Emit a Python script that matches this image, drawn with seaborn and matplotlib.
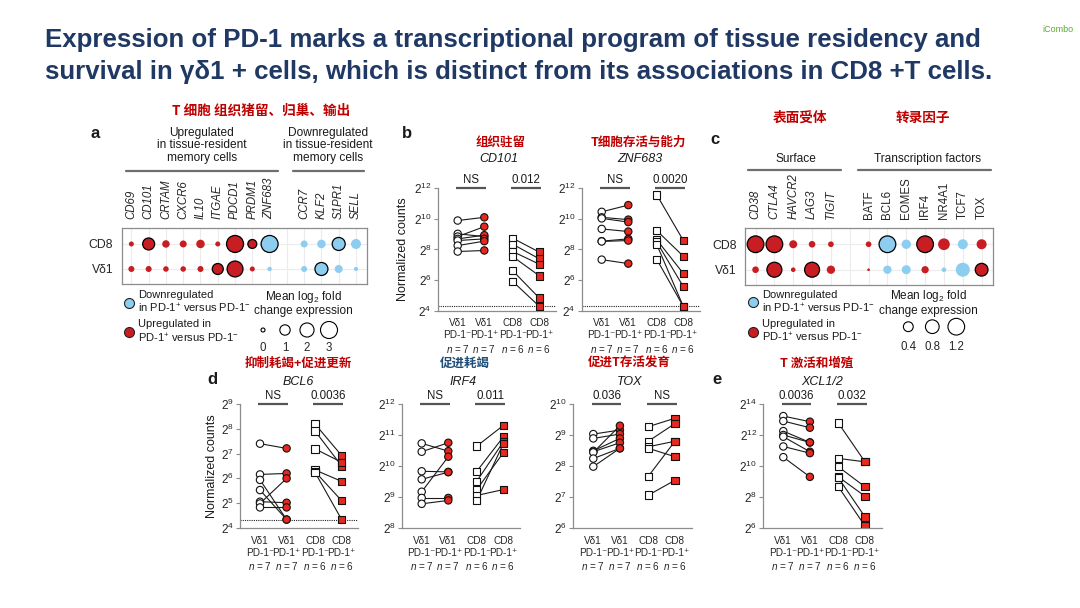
"""
PD-1 expression in Vd1 and CD8 T cells: dot plots (a, c) and paired count plots (b, d, e).
"""
import numpy as np
import pandas as pd
import matplotlib
matplotlib.use('Agg')
import matplotlib.pyplot as plt
import seaborn as sns
from matplotlib.lines import Line2D
from matplotlib.ticker import NullLocator

# ---------------- data ----------------
# panel a: signed mean log2 fold change (PD-1+ vs PD-1-), 1 = significant (outlined)
genes_a = ['CD69', 'CD101', 'CRTAM', 'CXCR6', 'IL10', 'ITGAE', 'PDCD1', 'PRDM1', 'ZNF683',
           'CCR7', 'KLF2', 'S1PR1', 'SELL']
n_first_a = 9
italic_a = [1] * 13
fc_cd8_a = [0.10, 1.40, 0.44, 0.36, 0.62, 0.10, 3.00, 0.70, -3.00, -0.36, -0.62, -1.68, -0.92]
fc_vd1_a = [0.22, 0.22, 0.16, 0.16, 0.22, 1.15, 2.60, 0.10, -0.04, -0.22, -1.68, -0.53, -0.01]
sig_cd8_a = [0, 1, 0, 0, 0, 0, 1, 1, 1, 0, 0, 1, 0]
sig_vd1_a = [0, 0, 0, 0, 0, 1, 1, 0, 0, 0, 1, 0, 0]
size_legend_a = [0, 1, 2, 3]

# panel c
genes_c = ['CD38', 'CTLA4', 'HAVCR2', 'LAG3', 'TIGIT',
           'BATF', 'BCL6', 'EOMES', 'IRF4', 'NR4A1', 'TCF7', 'TOX']
n_first_c = 5
italic_c = [1, 1, 1, 1, 1, 0, 0, 0, 0, 0, 0, 0]
fc_cd8_c = [1.56, 1.56, 0.26, 0.17, 0.12, 0.12, -1.20, -0.36, 1.20, 0.58, -0.42, 0.42]
fc_vd1_c = [0.17, 0.96, 0.07, 0.96, 0.28, 0.01, -0.28, -0.33, 0.21, -0.07, -0.84, 0.69]
sig_cd8_c = [1, 1, 0, 0, 0, 0, 1, 0, 1, 0, 0, 0]
sig_vd1_c = [0, 1, 0, 1, 0, 0, 0, 0, 0, 0, 0, 1]
size_legend_c = [0.4, 0.8, 1.2]

# paired panels: log2 normalized counts, index i of PD-1- is paired with index i of PD-1+
group_labels = ['Vδ1\nPD-1⁻\n$n$ = 7', 'Vδ1\nPD-1⁺\n$n$ = 7',
                'CD8\nPD-1⁻\n$n$ = 6', 'CD8\nPD-1⁺\n$n$ = 6']

cd101_vd1_neg = [9.89, 9.02, 8.84, 8.69, 8.58, 8.25, 7.86]
cd101_vd1_pos = [10.10, 8.84, 9.49, 8.93, 8.69, 8.54, 7.93]
cd101_cd8_neg = [8.73, 8.34, 7.86, 7.53, 6.60, 5.90]
cd101_cd8_pos = [7.82, 7.38, 7.03, 6.27, 4.81, 4.27]

znf683_vd1_neg = [10.46, 10.10, 10.03, 9.34, 8.54, 8.52, 7.33]
znf683_vd1_pos = [10.90, 9.95, 9.79, 9.17, 8.69, 8.58, 7.07]
znf683_cd8_neg = [11.57, 9.23, 8.63, 8.48, 8.32, 7.35]
znf683_cd8_pos = [8.58, 7.55, 6.42, 5.56, 4.26, 4.26]

bcl6_vd1_neg = [7.40, 6.16, 5.94, 5.53, 5.06, 4.99, 4.83]
bcl6_vd1_pos = [7.21, 6.20, 4.34, 4.34, 5.02, 6.00, 4.83]
bcl6_cd8_neg = [8.19, 7.91, 7.19, 6.34, 6.27, 6.24]
bcl6_cd8_pos = [6.92, 6.50, 6.65, 5.88, 5.10, 4.34]

irf4_vd1_neg = [10.73, 10.46, 9.83, 9.57, 9.17, 8.97, 8.78]
irf4_vd1_pos = [10.48, 10.75, 9.81, 9.80, 10.30, 8.97, 8.89]
irf4_cd8_neg = [10.64, 9.83, 9.51, 9.24, 9.05, 8.89]
irf4_cd8_pos = [11.31, 10.94, 10.78, 10.43, 9.24, 10.72]

tox_vd1_neg = [9.03, 8.89, 8.49, 8.46, 8.44, 8.24, 7.98]
tox_vd1_pos = [9.16, 9.03, 8.89, 8.75, 9.30, 8.57, 8.57]
tox_cd8_neg = [9.27, 8.80, 8.62, 8.57, 7.67, 7.06]
tox_cd8_pos = [9.54, 9.37, 8.80, 8.30, 8.80, 7.54]

xcl_vd1_neg = [13.22, 12.90, 12.25, 12.00, 11.89, 11.26, 10.57]
xcl_vd1_pos = [12.86, 12.47, 11.52, 11.52, 10.92, 10.83, 9.30]
xcl_cd8_neg = [12.77, 10.49, 9.95, 9.30, 9.24, 8.66]
xcl_cd8_pos = [10.27, 10.27, 8.66, 8.05, 6.72, 6.13]

# ---------------- style ----------------
W, H = 1080, 608
DOT_RED = '#C81D22'
DOT_BLUE = '#8DCDF0'
PT_RED = '#E8281E'
CN_RED = '#C00000'
NAVY = '#1F3864'
SPINE = '#8c8c8c'
CJK = ['Noto Sans CJK SC', 'DejaVu Sans']
NARROW = ['Liberation Sans Narrow', 'Liberation Sans', 'DejaVu Sans']

sns.set_style('ticks')
plt.rcParams['font.family'] = ['Liberation Sans', 'DejaVu Sans']
plt.rcParams['mathtext.fontset'] = 'custom'
plt.rcParams['mathtext.rm'] = 'Liberation Sans'
plt.rcParams['mathtext.it'] = 'Liberation Sans:italic'
plt.rcParams['mathtext.bf'] = 'Liberation Sans:bold'
plt.rcParams['text.color'] = '#1a1a1a'


def box(l, t, r, b):
    """Pixel box (left, top, right, bottom) -> figure fraction rect."""
    return [l / W, 1 - b / H, (r - l) / W, (b - t) / H]


def fxy(x, y):
    return x / W, 1 - y / H


def draw_dot_panel(ax, genes, n_first, fc_cd8, fc_vd1, sig_cd8, sig_vd1, italic, sizes, size_norm):
    xs = [i if i < n_first else i + 1 for i in range(len(genes))]
    rows = []
    for r, (fcs, sigs) in enumerate([(fc_cd8, sig_cd8), (fc_vd1, sig_vd1)]):
        for x, fc, sg in zip(xs, fcs, sigs):
            rows.append({'x': x, 'row': r, 'mag': abs(fc),
                         'dir': 'up' if fc > 0 else 'down', 'sig': sg})
    df = pd.DataFrame(rows)
    pal = {'up': DOT_RED, 'down': DOT_BLUE}
    for sg, ec in [(0, 'none'), (1, 'black')]:
        sub = df[df['sig'] == sg]
        sns.scatterplot(data=sub, x='x', y='row', hue='dir', palette=pal, size='mag',
                        sizes=sizes, size_norm=size_norm, edgecolor=ec, linewidth=0.9,
                        legend=False, ax=ax, zorder=3)
    ax.set_xlim(-0.56, xs[-1] + 0.62)
    ax.set_ylim(1.6, -0.65)
    ax.set_xticks(xs)
    ax.set_xticks([n_first], minor=True)
    ax.xaxis.tick_top()
    ax.set_xticklabels(genes, rotation=90, fontsize=8.3)
    for lab, it in zip(ax.get_xticklabels(), italic):
        lab.set_fontstyle('italic' if it else 'normal')
    ax.set_yticks([0, 1])
    ax.set_yticklabels(['CD8', 'Vδ1'], fontsize=8.8)
    ax.tick_params(axis='both', which='both', length=0)
    ax.tick_params(axis='x', pad=6.5)
    ax.tick_params(axis='y', pad=6)
    ax.grid(True, which='both', color='#ececec', lw=0.8)
    ax.set_axisbelow(True)
    for sp in ax.spines.values():
        sp.set_visible(True)
        sp.set_color(SPINE)
        sp.set_linewidth(0.9)
    ax.set_xlabel('')
    ax.set_ylabel('')


def draw_size_legend(ax, values, sizes, size_norm, pad):
    df = pd.DataFrame({'x': range(len(values)), 'y': 0, 'v': values})
    sns.scatterplot(data=df, x='x', y='y', size='v', sizes=sizes, size_norm=size_norm,
                    color='white', edgecolor='black', linewidth=0.8, legend=False, ax=ax)
    ax.set_xlim(-0.5, len(values) - 0.5)
    ax.set_ylim(-1, 1)
    ax.set_xticks(range(len(values)))
    ax.set_xticklabels([f'{v:g}' for v in values], fontsize=8.3)
    ax.tick_params(axis='x', length=0, pad=pad)
    ax.set_yticks([])
    ax.set_xlabel('')
    ax.set_ylabel('')
    for sp in ax.spines.values():
        sp.set_visible(False)
    ax.patch.set_alpha(0)


def draw_color_legend(fig, ax, left, top):
    handles = [Line2D([], [], ls='', marker='o', ms=7.2, mfc=DOT_BLUE, mec='#222', mew=0.8),
               Line2D([], [], ls='', marker='o', ms=7.2, mfc=DOT_RED, mec='#222', mew=0.8)]
    labels = ['Downregulated\nin PD-1$^{+}$ versus PD-1$^{-}$',
              'Upregulated in\nPD-1$^{+}$ versus PD-1$^{-}$']
    ax.legend(handles, labels, loc='upper left', bbox_to_anchor=fxy(left, top),
              bbox_transform=fig.transFigure, frameon=False, fontsize=8.0,
              handlelength=1.0, handletextpad=0.35, labelspacing=0.35,
              borderpad=0, borderaxespad=0)


def draw_paired_panel(ax, vd1_neg, vd1_pos, cd8_neg, cd8_pos, ylo, yhi, ystep, pvals, lod=None):
    group_pos = [0, 1, 2.07, 3.07]
    rows = []
    for key, (neg, pos), (p0, p1) in [('V', (vd1_neg, vd1_pos), group_pos[:2]),
                                      ('C', (cd8_neg, cd8_pos), group_pos[2:])]:
        for i, (a, b) in enumerate(zip(neg, pos)):
            rows.append({'pos': p0, 'count': 2.0 ** a, 'pair': f'{key}{i}', 'grp': key + '-'})
            rows.append({'pos': p1, 'count': 2.0 ** b, 'pair': f'{key}{i}', 'grp': key + '+'})
    df = pd.DataFrame(rows)

    sns.lineplot(data=df, x='pos', y='count', units='pair', estimator=None, sort=False,
                 color='#1a1a1a', lw=0.8, legend=False, ax=ax, zorder=2)
    sns.scatterplot(data=df, x='pos', y='count', hue='grp', style='grp',
                    palette={'V-': 'white', 'V+': PT_RED, 'C-': 'white', 'C+': PT_RED},
                    markers={'V-': 'o', 'V+': 'o', 'C-': 's', 'C+': 's'},
                    s=28, edgecolor='#111', linewidth=0.8, legend=False, ax=ax, zorder=3)

    ax.set_yscale('log', base=2)
    ax.set_ylim(2.0 ** ylo, 2.0 ** yhi)
    ks = list(range(ylo, yhi + 1, ystep))
    ax.set_yticks([2.0 ** k for k in ks])
    ax.set_yticklabels([f'$2^{{{k}}}$' for k in ks], fontsize=8.5)
    ax.yaxis.set_minor_locator(NullLocator())
    ax.set_xlim(-0.75, 3.7)
    ax.set_xticks(group_pos)
    ax.set_xticklabels(group_labels, fontsize=7.2, linespacing=1.25, family=NARROW)
    ax.tick_params(axis='x', length=0, pad=5.5)
    ax.tick_params(axis='y', length=3, width=0.8, color=SPINE, pad=1.5)
    for side in ['top', 'right']:
        ax.spines[side].set_visible(False)
    for side in ['left', 'bottom']:
        ax.spines[side].set_color(SPINE)
        ax.spines[side].set_linewidth(0.9)
    if lod is not None:
        ax.axhline(2.0 ** lod, color='#222', ls=(0, (1, 1)), lw=0.8, zorder=1)

    top = 2.0 ** yhi
    for (p0, p1), txt in zip([group_pos[:2], group_pos[2:]], pvals):
        ax.plot([p0 - 0.06, p1 + 0.06], [top, top], color='#555', lw=1.6,
                clip_on=False, solid_capstyle='butt')
        ax.annotate(txt, xy=((p0 + p1) / 2, top), xytext=(0, 1.5), textcoords='offset points',
                    ha='center', va='bottom', fontsize=8.3)
    ax.set_xlabel('')
    ax.set_ylabel('')
    ax.grid(False)


def main():
    fig = plt.figure(figsize=(W / 100, H / 100), dpi=100)
    fig.patch.set_facecolor('white')

    # title
    fig.text(*fxy(45, 40), 'Expression of PD-1 marks a transcriptional program of tissue residency and',
             fontsize=18.6, fontweight='bold', color=NAVY, va='center')
    fig.text(*fxy(45, 72), 'survival in γδ1 + cells, which is distinct from its associations in CD8 +T cells.',
             fontsize=18.6, fontweight='bold', color=NAVY, va='center')
    fig.text(*fxy(1058, 30), 'iCombo', fontsize=6.5, color='#5DAA2F', ha='center', va='center')

    # panel letters
    for letter, (x, y) in zip('abcde', [(95, 134), (407, 133), (715, 140), (212, 380), (717, 380)]):
        fig.text(*fxy(x, y), letter, fontsize=12, fontweight='bold', ha='center', va='center')

    # ---- panel a
    sizes_a, norm_a = (8.3, 150), (0, 3)
    ax_a = fig.add_axes(box(121.7, 227.7, 366.7, 284))
    draw_dot_panel(ax_a, genes_a, n_first_a, fc_cd8_a, fc_vd1_a, sig_cd8_a, sig_vd1_a,
                   italic_a, sizes_a, norm_a)
    fig.text(*fxy(261, 110.5), 'T 细胞 组织猪留、归巢、输出', family=CJK, fontweight='bold',
             fontsize=9.8, color=CN_RED, ha='center', va='center')
    for txt, cx in [('Upregulated\nin tissue-resident\nmemory cells', 201.7),
                    ('Downregulated\nin tissue-resident\nmemory cells', 328)]:
        fig.text(*fxy(cx, 145.5), txt, fontsize=8.6, ha='center', va='center', linespacing=1.1)
    for x0, x1 in [(125.7, 278), (293, 364)]:
        fig.add_artist(Line2D([x0 / W, x1 / W], [1 - 171 / H] * 2, color='#6e6e6e', lw=1.6))
    draw_color_legend(fig, ax_a, 123.4, 290)
    fig.text(*fxy(303, 303), 'Mean log$_2$ fold\nchange expression', fontsize=8.5,
             ha='center', va='center', linespacing=1.1)
    ax_la = fig.add_axes(box(252, 320, 340, 340))
    draw_size_legend(ax_la, size_legend_a, sizes_a, norm_a, pad=1.5)

    # ---- panel c
    sizes_c, norm_c = (2.6, 144.6), (0, 1.2)
    ax_c = fig.add_axes(box(745, 227.7, 993.3, 285))
    draw_dot_panel(ax_c, genes_c, n_first_c, fc_cd8_c, fc_vd1_c, sig_cd8_c, sig_vd1_c,
                   italic_c, sizes_c, norm_c)
    for txt, cx in [('表面受体', 800), ('转录因子', 923)]:
        fig.text(*fxy(cx, 118), txt, family=CJK, fontweight='bold', fontsize=9.8,
                 color=CN_RED, ha='center', va='center')
    for txt, cx in [('Surface', 796), ('Transcription factors', 927.7)]:
        fig.text(*fxy(cx, 159), txt, fontsize=8.6, ha='center', va='center')
    for x0, x1 in [(748.3, 840.7), (858.3, 991)]:
        fig.add_artist(Line2D([x0 / W, x1 / W], [1 - 170 / H] * 2, color='#6e6e6e', lw=1.6))
    draw_color_legend(fig, ax_c, 747.4, 289.5)
    fig.text(*fxy(928.3, 302.5), 'Mean log$_2$ fold\nchange expression', fontsize=8.5,
             ha='center', va='center', linespacing=1.1)
    ax_lc = fig.add_axes(box(896.3, 316.7, 968.3, 336.7))
    draw_size_legend(ax_lc, size_legend_c, sizes_c, norm_c, pad=3)

    # ---- panel b
    unit = 26.6
    ax_b1 = fig.add_axes(box(457.7 - 0.75 * unit, 188.3, 457.7 + 3.7 * unit, 310.5))
    draw_paired_panel(ax_b1, cd101_vd1_neg, cd101_vd1_pos, cd101_cd8_neg, cd101_cd8_pos,
                      4, 12, 2, ['NS', '0.012'], lod=4.27)
    ax_b2 = fig.add_axes(box(601.7 - 0.75 * unit, 188.3, 601.7 + 3.7 * unit, 310.5))
    draw_paired_panel(ax_b2, znf683_vd1_neg, znf683_vd1_pos, znf683_cd8_neg, znf683_cd8_pos,
                      4, 12, 2, ['NS', '0.0020'], lod=4.27)
    fig.text(*fxy(403, 249.5), 'Normalized counts', rotation=90, fontsize=9,
             ha='center', va='center')

    # ---- panels d, e
    firsts = [260, 421.7, 593.3, 783.3]
    panels = [
        (bcl6_vd1_neg, bcl6_vd1_pos, bcl6_cd8_neg, bcl6_cd8_pos, 4, 9, 1, ['NS', '0.0036'], 4.34),
        (irf4_vd1_neg, irf4_vd1_pos, irf4_cd8_neg, irf4_cd8_pos, 8, 12, 1, ['NS', '0.011'], None),
        (tox_vd1_neg, tox_vd1_pos, tox_cd8_neg, tox_cd8_pos, 6, 10, 1, ['0.036', 'NS'], None),
        (xcl_vd1_neg, xcl_vd1_pos, xcl_cd8_neg, xcl_cd8_pos, 6, 14, 2, ['0.0036', '0.032'], None),
    ]
    for x0, p in zip(firsts, panels):
        ax = fig.add_axes(box(x0 - 0.75 * unit, 404, x0 + 3.7 * unit, 528))
        draw_paired_panel(ax, *p[:4], p[4], p[5], p[6], p[7], lod=p[8])
    fig.text(*fxy(211.7, 465.8), 'Normalized counts', rotation=90, fontsize=9,
             ha='center', va='center')

    # gene titles and Chinese notes
    titles = [('CD101', 498.5, 159.3), ('ZNF683', 640, 159.3), ('BCL6', 298.3, 381.7),
              ('IRF4', 463, 381.7), ('TOX', 630, 381.7), ('XCL1/2', 822, 381.7)]
    for txt, x, y in titles:
        fig.text(*fxy(x, y), txt, fontsize=9, fontstyle='italic', ha='center', va='center')
    notes = [('组织驻留', 500.5, 142.7, CN_RED), ('T细胞存活与能力', 638.3, 142.7, CN_RED),
             ('抑制耗竭+促进更新', 298.3, 363.3, CN_RED), ('促进耗竭', 465, 363.3, '#1F4E79'),
             ('促进T存活发育', 629, 363.3, CN_RED), ('T 激活和增殖', 816.7, 363.3, CN_RED)]
    for txt, x, y, col in notes:
        fig.text(*fxy(x, y), txt, family=CJK, fontweight='bold', fontsize=9,
                 color=col, ha='center', va='center')

    fig.savefig('out.png', dpi=100, facecolor='white')
    plt.close(fig)


if __name__ == '__main__':
    main()
